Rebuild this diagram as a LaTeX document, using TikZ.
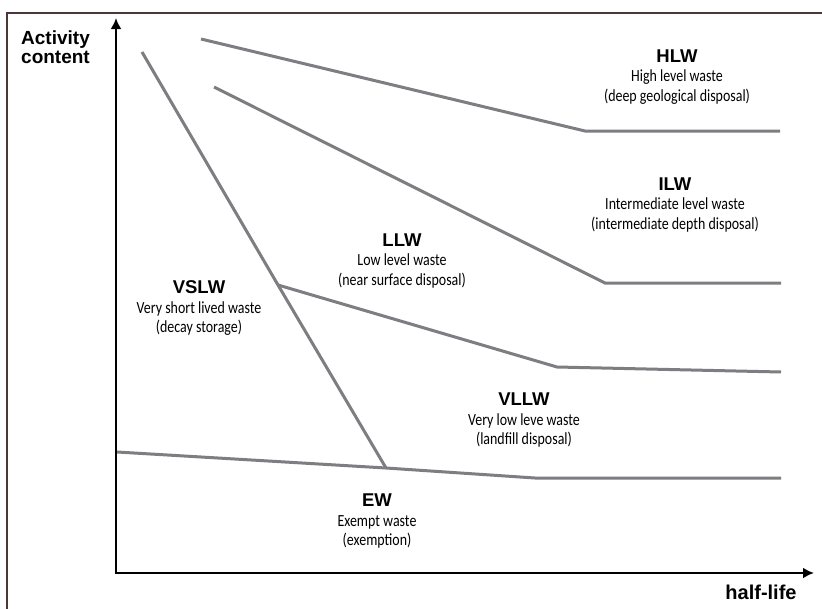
\documentclass[tikz,border=0pt]{standalone}
\usepackage{fontspec}
\setmainfont{Carlito}
\newfontfamily\condfont[FakeStretch=0.82]{Carlito}
\newfontfamily\boldfont{Liberation Sans Bold}
\usetikzlibrary{arrows.meta}
\definecolor{linegray}{RGB}{125,125,130}
\definecolor{framecol}{RGB}{75,55,55}
\tikzset{
  zone/.style={linegray, line width=3pt, line join=miter},
  axis/.style={black, line width=2.8pt, -{Latex[length=11pt,width=11pt]}},
  label/.style={align=center, inner sep=0pt, font=\condfont\fontsize{17}{19.5}\selectfont},
  axislabel/.style={inner sep=0pt, font=\boldfont\fontsize{19}{19}\selectfont}
}
\newcommand{\ttl}[1]{{\boldfont\fontsize{18.5}{19.5}\selectfont #1}}
\begin{document}
\begin{tikzpicture}[x=1pt,y=-1pt]
\useasboundingbox[fill=white] (0,0) rectangle (822,608);
% frame
\draw[framecol, line width=1.4pt] (7,620) -- (7,13) -- (830,13);
% coordinates
\coordinate (o) at (116,573);
\coordinate (ytop) at (116,18);
\coordinate (xend) at (814,573);
\coordinate (h1) at (201,39);
\coordinate (h2) at (585,131);
\coordinate (h3) at (780,131);
\coordinate (i1) at (214,87);
\coordinate (i2) at (605,283);
\coordinate (i3) at (781,283);
\coordinate (v1) at (142,52);
\coordinate (j1) at (278,285);
\coordinate (j2) at (386,468);
\coordinate (l2) at (557,367);
\coordinate (l3) at (781,372);
\coordinate (e0) at (117,452);
\coordinate (e2) at (535,478);
\coordinate (e3) at (781,478);
% boundary lines
\draw[zone] (h1) -- (h2) -- (h3);
\draw[zone] (i1) -- (i2) -- (i3);
\draw[zone] (v1) -- (j1) -- (j2);
\draw[zone] (j1) -- (l2) -- (l3);
\draw[zone] (e0) -- (j2) -- (e2) -- (e3);
% axes
\draw[axis] (o) -- (ytop);
\draw[axis] ([xshift=-1.4pt]o) -- (xend);
% axis labels
\node[axislabel, align=left, anchor=west] (ylab) at (21,47) {Activity\\content};
\node[axislabel, anchor=center, font=\boldfont\fontsize{20}{20}\selectfont] (xlab) at (761,592) {half-life};
% zone labels
\node[label] (hlw) at (677,77) {\ttl{HLW}\\High level waste\\(deep geological disposal)};
\node[label] (ilw) at (675,205) {\ttl{ILW}\\Intermediate level waste\\(intermediate depth disposal)};
\node[label] (llw) at (402,261) {\ttl{LLW}\\Low level waste\\(near surface disposal)};
\node[label] (vslw) at (199,308) {\ttl{VSLW}\\Very short lived waste\\(decay storage)};
\node[label] (vllw) at (524,420) {\ttl{VLLW}\\Very low leve waste\\(landfill disposal)};
\node[label] (ew) at (377,521) {\ttl{EW}\\Exempt waste\\(exemption)};
\end{tikzpicture}
\end{document}
